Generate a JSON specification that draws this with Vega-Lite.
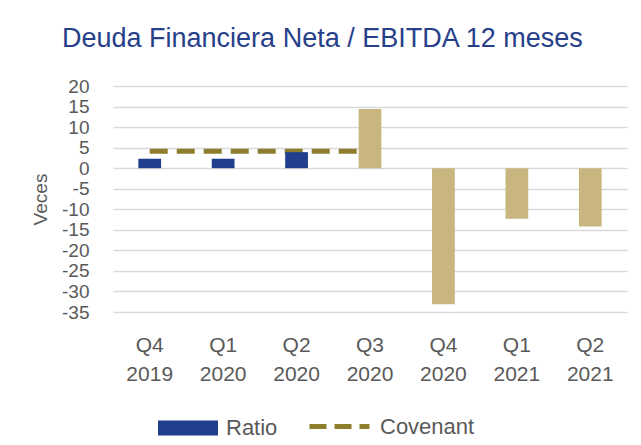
{
  "$schema": "https://vega.github.io/schema/vega-lite/v6.json",
  "width": 514,
  "height": 226,
  "autosize": {"type": "none"},
  "padding": {"left": 113, "top": 86, "right": 14, "bottom": 133},
  "background": "white",
  "config": {
    "view": {"stroke": null},
    "font": "Liberation Sans"
  },
  "title": {
    "text": "Deuda Financiera Neta / EBITDA 12 meses",
    "anchor": "start",
    "frame": "group",
    "dx": -51,
    "offset": 24,
    "fontSize": 27,
    "font": "Liberation Sans",
    "fontWeight": "normal",
    "color": "#27408a"
  },
  "datasets": {
    "barras": [
      {"periodo": "Q4 2019", "valor": 2.3, "tipo": "Ratio"},
      {"periodo": "Q1 2020", "valor": 2.3, "tipo": "Ratio"},
      {"periodo": "Q2 2020", "valor": 3.9, "tipo": "Ratio"},
      {"periodo": "Q3 2020", "valor": 14.4, "tipo": "Otro"},
      {"periodo": "Q4 2020", "valor": -33.1, "tipo": "Otro"},
      {"periodo": "Q1 2021", "valor": -12.3, "tipo": "Otro"},
      {"periodo": "Q2 2021", "valor": -14.2, "tipo": "Otro"}
    ],
    "covenant": [
      {"periodo": "Q4 2019", "valor": 4.1},
      {"periodo": "Q1 2020", "valor": 4.1},
      {"periodo": "Q2 2020", "valor": 4.1},
      {"periodo": "Q3 2020", "valor": 4.1}
    ]
  },
  "encoding": {
    "x": {
      "field": "periodo",
      "type": "nominal",
      "sort": null,
      "scale": {
        "domain": ["Q4 2019", "Q1 2020", "Q2 2020", "Q3 2020", "Q4 2020", "Q1 2021", "Q2 2021"],
        "paddingInner": 0.69,
        "paddingOuter": 0.345
      },
      "axis": {
        "title": null,
        "domain": false,
        "ticks": false,
        "grid": false,
        "labelAngle": 0,
        "labelExpr": "split(datum.label, ' ')",
        "labelFontSize": 21,
        "labelColor": "#595959",
        "labelLineHeight": 29,
        "labelPadding": 22,
        "labelFont": "Liberation Sans"
      }
    },
    "y": {
      "field": "valor",
      "type": "quantitative",
      "scale": {"domain": [-35, 20], "nice": false},
      "axis": {
        "title": "Veces",
        "values": [20, 15, 10, 5, 0, -5, -10, -15, -20, -25, -30, -35],
        "labelOverlap": false,
        "labelExpr": "replace(datum.label, '−', '-')",
        "domain": false,
        "ticks": false,
        "grid": true,
        "gridColor": "#d9d9d9",
        "gridWidth": 1.3,
        "labelFontSize": 19,
        "labelColor": "#595959",
        "labelPadding": 24,
        "labelFont": "Liberation Sans",
        "titleFontSize": 19,
        "titleColor": "#595959",
        "titleFontWeight": "normal",
        "titleFont": "Liberation Sans",
        "titlePadding": 11
      }
    }
  },
  "layer": [
    {
      "data": {"name": "covenant"},
      "mark": {"type": "line", "strokeDash": [18, 9], "strokeWidth": 5, "strokeCap": "butt"},
      "encoding": {
        "stroke": {
          "datum": "Covenant",
          "type": "nominal",
          "scale": {"domain": ["Covenant"], "range": ["#8c7e2c"]},
          "legend": {
            "title": null,
            "orient": "none",
            "legendX": 194,
            "legendY": 308,
            "symbolType": "stroke",
            "symbolSize": 3600,
            "symbolStrokeWidth": 5,
            "symbolDash": [17, 8],
            "labelFontSize": 22,
            "labelColor": "#595959",
            "labelOffset": 8,
            "labelFont": "Liberation Sans"
          }
        }
      }
    },
    {
      "data": {"name": "barras"},
      "mark": {"type": "bar"},
      "encoding": {
        "color": {
          "field": "tipo",
          "type": "nominal",
          "scale": {"domain": ["Ratio", "Otro"], "range": ["#213f8f", "#c8b57f"]},
          "legend": {
            "title": null,
            "values": ["Ratio"],
            "orient": "none",
            "legendX": 45,
            "legendY": 312,
            "symbolType": "M-1,-0.25H1V0.25H-1Z",
            "symbolSize": 3600,
            "symbolStrokeWidth": 0,
            "labelFontSize": 22,
            "labelColor": "#595959",
            "labelOffset": 8,
            "labelFont": "Liberation Sans"
          }
        }
      }
    }
  ]
}
